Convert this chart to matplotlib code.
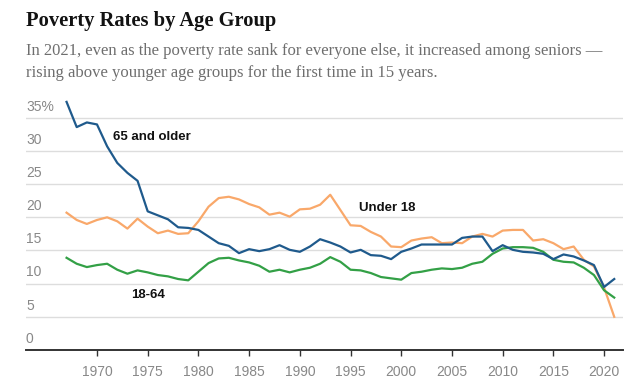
import matplotlib
matplotlib.use("Agg")
import matplotlib.pyplot as plt
import matplotlib.transforms as mtransforms

years = list(range(1967, 2022))

# Supplemental poverty rates (%)
seniors = [37.4, 33.6, 34.3, 34.0, 30.7, 28.2, 26.7, 25.5, 20.9, 20.3,
           19.7, 18.5, 18.4, 18.1, 17.1, 16.1, 15.7, 14.6, 15.2, 14.9,
           15.2, 15.8, 15.1, 14.8, 15.6, 16.7, 16.2, 15.6, 14.7, 15.1,
           14.3, 14.2, 13.7, 14.8, 15.3, 15.9, 15.9, 15.9, 15.9, 16.9,
           17.1, 17.1, 14.9, 15.8, 15.1, 14.8, 14.7, 14.5, 13.7, 14.4,
           14.1, 13.5, 12.8, 9.5, 10.7]
children = [20.7, 19.6, 19.0, 19.6, 20.0, 19.4, 18.3, 19.8, 18.6, 17.6,
            18.0, 17.5, 17.6, 19.4, 21.6, 22.9, 23.1, 22.7, 22.0, 21.5,
            20.4, 20.7, 20.1, 21.2, 21.3, 21.9, 23.4, 21.1, 18.8, 18.7,
            17.8, 17.1, 15.6, 15.5, 16.5, 16.8, 17.0, 16.1, 16.2, 16.1,
            17.1, 17.5, 17.1, 18.0, 18.1, 18.1, 16.5, 16.7, 16.1, 15.2,
            15.6, 13.6, 12.6, 9.4, 5.0]
adults = [13.9, 13.0, 12.5, 12.8, 13.0, 12.1, 11.5, 12.0, 11.7, 11.3,
          11.1, 10.7, 10.5, 11.8, 13.1, 13.8, 13.9, 13.5, 13.2, 12.7,
          11.8, 12.1, 11.7, 12.1, 12.4, 13.0, 14.0, 13.3, 12.1, 12.0,
          11.6, 11.0, 10.8, 10.6, 11.6, 11.8, 12.1, 12.3, 12.2, 12.4,
          13.0, 13.3, 14.5, 15.3, 15.5, 15.5, 15.4, 14.8, 13.6, 13.3,
          13.2, 12.4, 11.3, 9.0, 7.9]

y_ticks = [0, 5, 10, 15, 20, 25, 30, 35]
y_labels = ["0", "5", "10", "15", "20", "25", "30", "35%"]
x_ticks = [1970, 1975, 1980, 1985, 1990, 1995, 2000, 2005, 2010, 2015, 2020]

blue = "#1f5a8c"
orange = "#f9a86a"
green = "#33a046"
grey = "#888888"

fig = plt.figure(figsize=(6.37, 3.87), dpi=100)
ax = fig.add_axes([0.0408, 0.0956, 0.937, 0.66])

ax.plot(years, children, color=orange, lw=1.6, zorder=3)
ax.plot(years, adults, color=green, lw=1.6, zorder=3)
ax.plot(years, seniors, color=blue, lw=1.6, zorder=4)

ax.set_xlim(1963.0, 2021.85)
ax.set_ylim(0, 38.5)

for t in y_ticks[1:]:
    ax.axhline(t, color="#dddddd", lw=1, zorder=1)

# y labels sit just above their gridlines, flush left
trans = mtransforms.blended_transform_factory(ax.transAxes, ax.transData)
nudge = mtransforms.ScaledTranslation(0, 3 / 72, fig.dpi_scale_trans)
for t, lab in zip(y_ticks, y_labels):
    ax.text(0, t, lab, transform=trans + nudge, ha="left", va="bottom",
            fontsize=10, color=grey, family="Liberation Sans")

ax.set_yticks([])
ax.set_xticks(x_ticks)
ax.set_xticklabels([str(x) for x in x_ticks], fontsize=10, color=grey,
                   family="Liberation Sans")
ax.tick_params(axis="x", length=4, width=1, color="#333333", pad=7)

for s in ["top", "right", "left"]:
    ax.spines[s].set_visible(False)
ax.spines["bottom"].set_color("#333333")
ax.spines["bottom"].set_linewidth(1.4)

lab_font = dict(fontsize=9.5, fontweight="bold", color="#111111",
                family="Liberation Sans", va="center", ha="left")
ax.text(1971.6, 32.1, "65 and older", **lab_font)
ax.text(1995.8, 21.4, "Under 18", **lab_font)
ax.text(1973.4, 8.25, "18-64", **lab_font)

fig.text(26 / 637, 1 - 21 / 387, "Poverty Rates by Age Group",
         fontsize=14.8, fontweight="bold", family="Liberation Serif",
         color="#121212", va="center", ha="left")
sub = dict(fontsize=12, family="Liberation Serif", color="#6e6e6e",
           va="center", ha="left")
fig.text(26 / 637, 1 - 51 / 387,
         "In 2021, even as the poverty rate sank for everyone else, it increased among seniors \u2014",
         **sub)
fig.text(26 / 637, 1 - 73 / 387,
         "rising above younger age groups for the first time in 15 years.", **sub)

fig.savefig("out.png", dpi=100)
